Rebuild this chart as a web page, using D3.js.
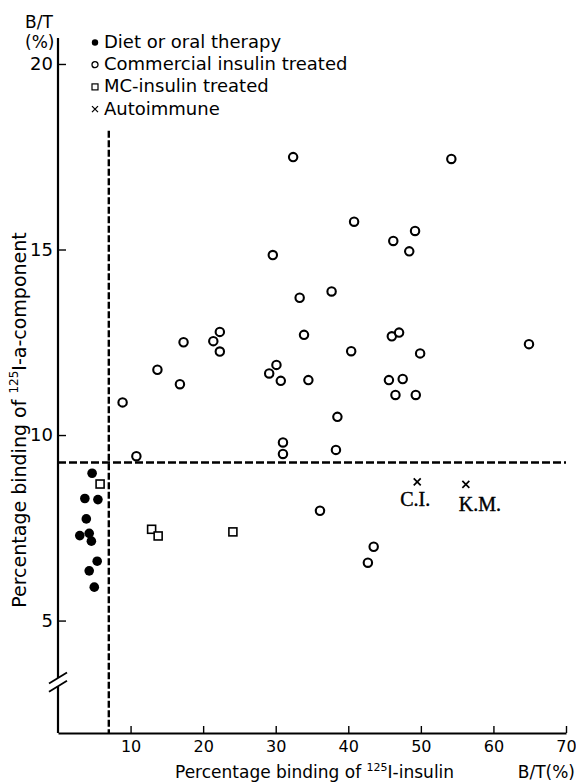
<!DOCTYPE html>
<html>
<head>
<meta charset="utf-8">
<script src="https://cdn.jsdelivr.net/npm/d3@7"></script>
<style>
  body { margin: 0; background: #fff; }
  svg { display: block; font-family: "DejaVu Sans", sans-serif; }
</style>
</head>
<body>
<div id="plotSection"></div>
<script>
// values: [binding of 125I-insulin %, binding of 125I-a-component %]
const diet = [[4.7, 8.97], [3.7, 8.29], [5.5, 8.26], [3.9, 7.74], [3.0, 7.29],
    [4.3, 7.35], [4.6, 7.14], [5.4, 6.60], [4.3, 6.34], [5.0, 5.90]]

const commercial = [[32.4, 17.49], [54.2, 17.44], [29.6, 14.85], [40.8, 15.75], [49.2, 15.50],
    [46.2, 15.23], [48.4, 14.95], [33.3, 13.70], [37.7, 13.87], [22.3, 12.78],
    [21.4, 12.53], [22.3, 12.25], [17.3, 12.50], [33.9, 12.70], [13.7, 11.76],
    [16.8, 11.37], [30.1, 11.89], [29.1, 11.66], [30.7, 11.46], [34.5, 11.48],
    [8.9, 10.88], [10.8, 9.43], [31.0, 9.80], [31.0, 9.49], [36.1, 7.96],
    [40.4, 12.26], [46.0, 12.66], [47.0, 12.76], [49.9, 12.20], [64.9, 12.45],
    [45.6, 11.48], [47.5, 11.51], [46.5, 11.08], [49.3, 11.08], [38.5, 10.49],
    [38.3, 9.60], [43.5, 6.99], [42.7, 6.56]]

const mcInsulin = [[5.8, 8.68], [12.9, 7.46], [13.8, 7.28], [24.1, 7.39]]

const autoimmune = [[49.5, 8.74], [56.2, 8.67]]
const autoNames = ['C.I.', 'K.M.']

const legendLabels = ['Diet or oral therapy', 'Commercial insulin treated', 'MC-insulin treated', 'Autoimmune']

const xTicks = [10, 20, 30, 40, 50, 60, 70]
const yTicks = [5, 10, 15, 20]
const xDomain = [0, 70]
const yDomain = [1.97, 20.7]   // y axis is broken near the bottom
const breakHi = 3.45
const breakLo = 3.23
const cutX = 7.0
const cutY = 9.26
const cutTop = 18.2

const margin = { top: 38, right: 10, bottom: 51, left: 58 }
const width = 576 - margin.left - margin.right
const height = 784 - margin.top - margin.bottom

const x = d3.scaleLinear().domain(xDomain).range([0, width])
const y = d3.scaleLinear().domain(yDomain).range([height, 0])

const root = d3.select('#plotSection').append('svg')
    .attr('width', 576)
    .attr('height', 784)

const svg = root.append('g')
    .attr('transform', `translate(${margin.left},${margin.top})`)

// axes
const xAxis = d3.axisBottom(x).tickValues(xTicks).tickSizeInner(-7).tickSizeOuter(0).tickPadding(8)
const gx = svg.append('g')
    .attr('transform', `translate(0,${height})`)
    .call(xAxis)
gx.select('.domain').attr('stroke-width', 2.2)
gx.selectAll('.tick line').attr('stroke-width', 1.4)
gx.selectAll('.tick text').attr('font-size', 16).attr('font-family', 'DejaVu Sans').attr('fill', '#000')

const yAxis = d3.axisLeft(y).tickValues(yTicks).tickSizeInner(-8).tickSizeOuter(0).tickPadding(5)
const gy = svg.append('g').call(yAxis)
gy.select('.domain').remove()
gy.selectAll('.tick line').attr('stroke-width', 1.4)
gy.selectAll('.tick text').attr('font-size', 18).attr('font-family', 'DejaVu Sans').attr('fill', '#000')

// y axis line in two pieces with break marks
svg.append('line').attr('x1', 0).attr('x2', 0).attr('y1', y(yDomain[1])).attr('y2', y(breakHi))
    .attr('stroke', '#000').attr('stroke-width', 2.2)
svg.append('line').attr('x1', 0).attr('x2', 0).attr('y1', y(breakLo)).attr('y2', y(yDomain[0]))
    .attr('stroke', '#000').attr('stroke-width', 2.2)
svg.selectAll('.brk')
    .data([breakHi, breakLo])
    .enter().append('line')
    .attr('class', 'brk')
    .attr('x1', -9).attr('x2', 9)
    .attr('y1', d => y(d) + 5.5).attr('y2', d => y(d) - 5.5)
    .attr('stroke', '#000').attr('stroke-width', 1.8)

// cut-off lines
svg.append('line')
    .attr('x1', x(cutX)).attr('x2', x(cutX))
    .attr('y1', y(cutTop)).attr('y2', y(yDomain[0]))
    .attr('stroke', '#000').attr('stroke-width', 2.4).attr('stroke-dasharray', '7,2.5')
svg.append('line')
    .attr('x1', 0).attr('x2', x(70))
    .attr('y1', y(cutY)).attr('y2', y(cutY))
    .attr('stroke', '#000').attr('stroke-width', 2.4).attr('stroke-dasharray', '8,3')

// points
svg.selectAll('.diet')
    .data(diet)
    .enter().append('circle')
    .attr('class', 'diet')
    .attr('cx', d => x(d[0]))
    .attr('cy', d => y(d[1]))
    .attr('r', 4.8)
    .attr('fill', '#000')

svg.selectAll('.comm')
    .data(commercial)
    .enter().append('circle')
    .attr('class', 'comm')
    .attr('cx', d => x(d[0]))
    .attr('cy', d => y(d[1]))
    .attr('r', 4.2)
    .attr('fill', '#fff')
    .attr('stroke', '#000')
    .attr('stroke-width', 2.1)

svg.selectAll('.mc')
    .data(mcInsulin)
    .enter().append('rect')
    .attr('class', 'mc')
    .attr('x', d => x(d[0]) - 4)
    .attr('y', d => y(d[1]) - 4)
    .attr('width', 8)
    .attr('height', 8)
    .attr('fill', '#fff')
    .attr('stroke', '#000')
    .attr('stroke-width', 1.6)

const auto = svg.selectAll('.auto')
    .data(autoimmune)
    .enter().append('g')
    .attr('class', 'auto')
    .attr('transform', d => `translate(${x(d[0])},${y(d[1])})`)
auto.append('path')
    .attr('d', 'M-3.5,-3.5L3.5,3.5M-3.5,3.5L3.5,-3.5')
    .attr('stroke', '#000')
    .attr('stroke-width', 1.7)
auto.append('text')
    .attr('x', (d, i) => i === 0 ? -2 : 14)
    .attr('y', (d, i) => i === 0 ? 24 : 27)
    .attr('text-anchor', 'middle')
    .attr('font-family', 'Liberation Serif')
    .attr('font-size', 20)
    .attr('stroke', '#000')
    .attr('stroke-width', 0.4)
    .text((d, i) => autoNames[i])

// legend
const legend = root.selectAll('.legend')
    .data(legendLabels)
    .enter().append('g')
    .attr('class', 'legend')
    .attr('transform', (d, i) => `translate(95,${48 + i * 22.2})`)

legend.append('text')
    .attr('x', 9)
    .attr('font-size', 18)
    .text(d => d)

legend.each(function(d, i) {
    const g = d3.select(this)
    if (i === 0) g.append('circle').attr('cy', -5.5).attr('r', 3.2).attr('fill', '#000')
    if (i === 1) g.append('circle').attr('cy', -5.5).attr('r', 3).attr('fill', 'none').attr('stroke', '#000').attr('stroke-width', 1.3)
    if (i === 2) g.append('rect').attr('x', -3).attr('y', -8.5).attr('width', 6).attr('height', 6).attr('fill', 'none').attr('stroke', '#000').attr('stroke-width', 1.2)
    if (i === 3) g.append('path').attr('d', 'M-3,-8.5L3,-2.5M-3,-2.5L3,-8.5').attr('stroke', '#000').attr('stroke-width', 1.3)
})

// axis titles
root.append('text').attr('x', 25).attr('y', 28).attr('font-size', 17).text('B/T')
root.append('text').attr('x', 25).attr('y', 48).attr('font-size', 17).text('(%)')

const xTitle = root.append('text')
    .attr('x', 175)
    .attr('y', 778)
    .attr('font-size', 17)
xTitle.append('tspan').text('Percentage binding of ')
xTitle.append('tspan').attr('font-size', 11).attr('dy', -7).text('125')
xTitle.append('tspan').attr('dy', 7).text('I-insulin')

root.append('text')
    .attr('x', 575)
    .attr('y', 778)
    .attr('text-anchor', 'end')
    .attr('font-size', 17)
    .text('B/T(%)')

const yTitle = root.append('text')
    .attr('transform', 'translate(26,420) rotate(-90)')
    .attr('text-anchor', 'middle')
    .attr('font-size', 19)
yTitle.append('tspan').text('Percentage binding of ')
yTitle.append('tspan').attr('font-size', 12).attr('dy', -8).text('125')
yTitle.append('tspan').attr('dy', 8).text('I-a-component')
</script>
</body>
</html>
